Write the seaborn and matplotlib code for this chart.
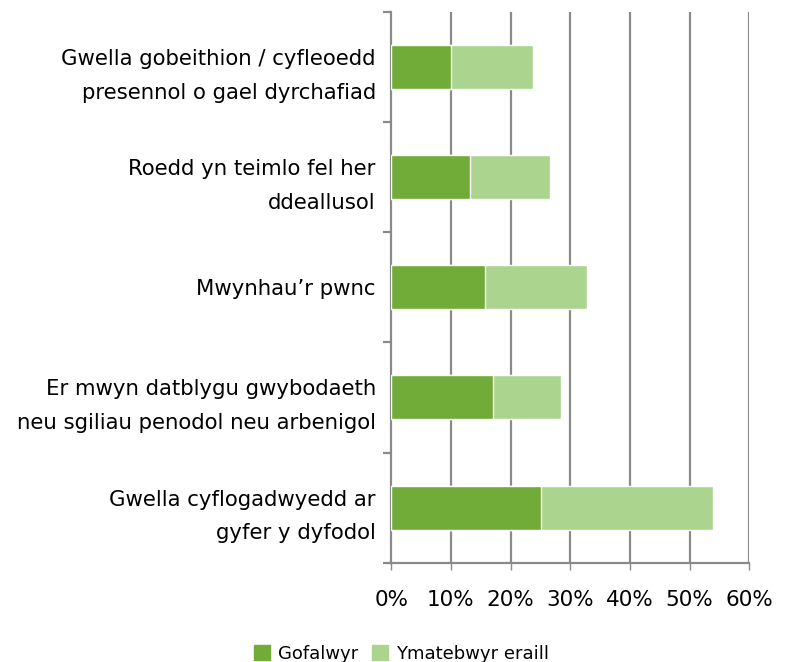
import matplotlib
matplotlib.use("Agg")
import matplotlib.pyplot as plt
import seaborn as sns
import pandas as pd
from matplotlib.patches import Patch

categories = [
    "Gwella gobeithion / cyfleoedd\npresennol o gael dyrchafiad",
    "Roedd yn teimlo fel her\nddeallusol",
    "Mwynhau\u2019r pwnc",
    "Er mwyn datblygu gwybodaeth\nneu sgiliau penodol neu arbenigol",
    "Gwella cyflogadwyedd ar\ngyfer y dyfodol",
]
gofalwyr = [10.0, 13.2, 15.7, 17.1, 25.1]
ymatebwyr_eraill = [13.8, 13.4, 17.1, 11.3, 28.9]
series_names = ["Gofalwyr", "Ymatebwyr eraill"]
x_ticks = [0, 10, 20, 30, 40, 50, 60]

dark = "#71AB38"
light = "#ABD48E"
grey = "#8A8A8A"

df = pd.DataFrame({"cat": categories, "dark": gofalwyr, "light": ymatebwyr_eraill})
df["total"] = df["dark"] + df["light"]

sns.set_style("white")
plt.rcParams["font.family"] = ["DejaVu Sans"]
plt.rcParams["text.color"] = "black"

fig = plt.figure(figsize=(7.87, 6.62), dpi=100)
ax = fig.add_axes([0.497, 0.150, 0.455, 0.832])

sns.barplot(data=df, y="cat", x="total", color=light, orient="h", width=0.4,
            saturation=1, ax=ax, zorder=3)
sns.barplot(data=df, y="cat", x="dark", color=dark, orient="h", width=0.4,
            saturation=1, ax=ax, zorder=4)

ax.set_xlim(0, 60)
ax.set_ylim(4.5, -0.5)
ax.set_xticks(x_ticks)
ax.set_xticklabels([f"{t}%" for t in x_ticks], fontsize=15.5)
ax.set_xlabel("")
ax.set_ylabel("")
for t in x_ticks[1:]:
    ax.axvline(t, color=grey, lw=1.6, zorder=1)

ax.set_yticks(range(len(categories)))
ax.set_yticklabels(categories, fontsize=15.3, linespacing=1.85)
ax.set_yticks([i - 0.5 for i in range(len(categories) + 1)], minor=True)
ax.tick_params(axis="y", which="major", length=0, pad=11, labelcolor="black")
ax.tick_params(axis="y", which="minor", length=6, width=1.6, color=grey, left=True)
ax.tick_params(axis="x", which="major", length=5, width=1, color=grey, bottom=True,
               pad=15, labelcolor="black")

for s in ["top", "right"]:
    ax.spines[s].set_visible(False)
for s in ["left", "bottom"]:
    ax.spines[s].set_color(grey)
    ax.spines[s].set_linewidth(1.6)

handles = [Patch(color=dark), Patch(color=light)]
fig.legend(handles, series_names, loc="lower center", bbox_to_anchor=(0.51, -0.026),
           ncol=2, frameon=False, fontsize=13, handlelength=0.9, handleheight=0.9,
           handletextpad=0.4, columnspacing=0.8, labelcolor="black")

fig.savefig("out.png", dpi=100)
